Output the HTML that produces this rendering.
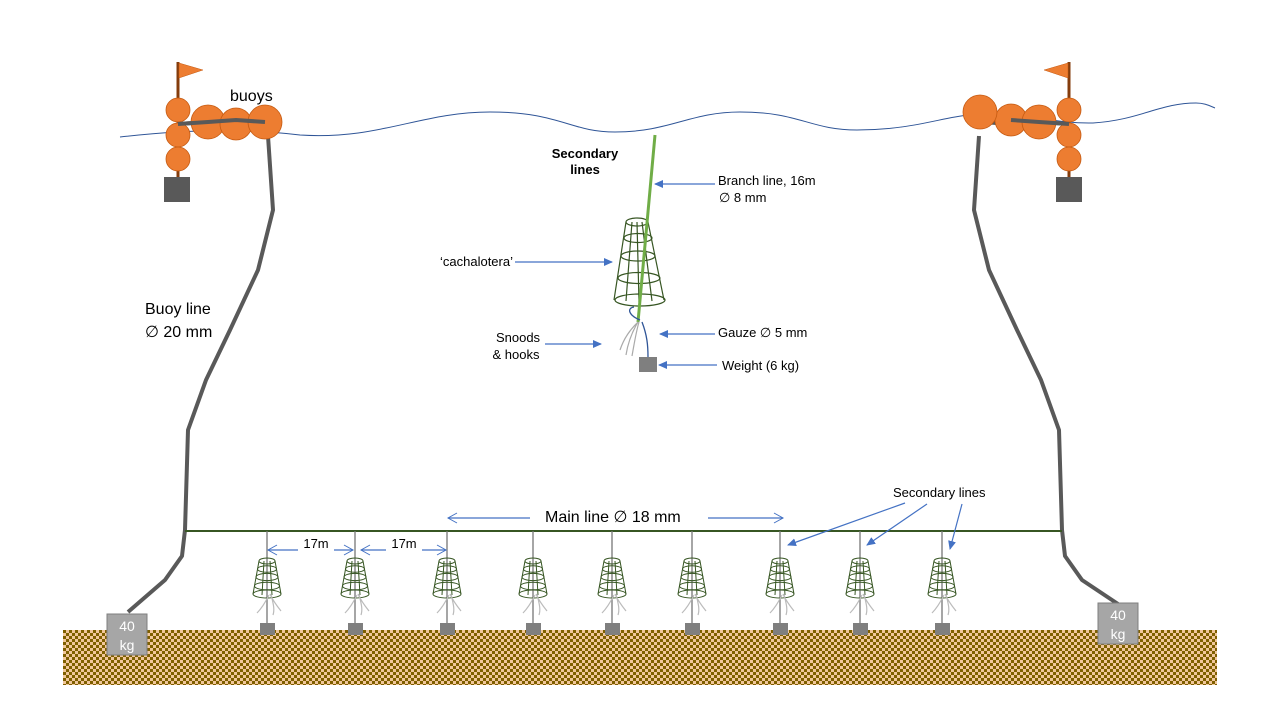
<!DOCTYPE html>
<html><head><meta charset="utf-8"><style>
html,body{margin:0;padding:0;background:#fff;}
svg{display:block;font-family:"Liberation Sans",sans-serif;}
</style></head><body>
<svg width="1280" height="720" viewBox="0 0 1280 720">
<defs>
<pattern id="chk" width="6" height="6" patternUnits="userSpaceOnUse">
<rect width="6" height="6" fill="#7f6000"/>
<rect width="3" height="3" fill="#f1c79b"/>
<rect x="3" y="3" width="3" height="3" fill="#f1c79b"/>
</pattern>
<marker id="ah" markerWidth="10" markerHeight="10" refX="8" refY="5" orient="auto" markerUnits="userSpaceOnUse">
<path d="M0,1 L9,5 L0,9 z" fill="#4472c4"/>
</marker>
<marker id="ao" markerWidth="12" markerHeight="12" refX="10" refY="6" orient="auto" markerUnits="userSpaceOnUse">
<path d="M1,1 L10,6 L1,11" fill="none" stroke="#4472c4" stroke-width="1"/>
</marker>
<g id="trap">
<line x1="0" y1="-30" x2="0" y2="62" stroke="#777" stroke-width="1.3"/>
<g fill="none" stroke="#375623" stroke-width="1">
<path d="M-8,0 L-14,33 M8,0 L14,33 M-3,0 L-5,34 M3,0 L5,34"/>
<ellipse cx="0" cy="0" rx="8" ry="3"/>
<ellipse cx="0" cy="8" rx="9.5" ry="3.3"/>
<ellipse cx="0" cy="16" rx="11" ry="3.6"/>
<ellipse cx="0" cy="25" rx="12.5" ry="3.8"/>
<ellipse cx="0" cy="33" rx="14" ry="4"/>
</g>
<path d="M3,33 C6,40 10,45 14,50 M4,33 C6,42 8,48 6,54 M2,34 C-2,42 -6,48 -10,52" fill="none" stroke="#bbb" stroke-width="1.2"/>
<rect x="-7" y="62" width="15" height="12" fill="#7f7f7f"/>
</g>
</defs>

<!-- seabed -->
<rect x="63" y="630" width="1154" height="55" fill="url(#chk)"/>

<!-- wave -->
<path d="M120,137 C200,128 260,130 300,135 C380,140 420,112 490,112 C560,112 570,132 615,132 C670,132 690,112 740,112 C800,112 810,130 857,130 C910,130 940,118 968,115 C1020,110 1050,124 1093,123 C1140,120 1160,103 1196,103 C1205,103 1210,106 1215,108" fill="none" stroke="#2f5597" stroke-width="1"/>

<!-- buoy lines -->
<path d="M178,124 L208,122 L236,124 L265,122 M268,136 L273,210 L258,270 L230,330 L206,380 L188,430 L185,530 L182,556 L165,580 L128,612" fill="none" stroke="#595959" stroke-width="4" stroke-linejoin="round"/>
<path d="M1069,124 L1039,122 L1011,124 L982,122 M979,136 L974,210 L989,270 L1017,330 L1041,380 L1059,430 L1062,530 L1065,556 L1082,580 L1118,604" fill="none" stroke="#595959" stroke-width="4" stroke-linejoin="round"/>

<!-- main line -->
<line x1="185" y1="531" x2="1062" y2="531" stroke="#375623" stroke-width="2"/>

<!-- left buoy -->
<line x1="178" y1="62" x2="178" y2="178" stroke="#843c0c" stroke-width="3"/>
<path d="M179,63 L203,70 L179,78 z" fill="#ed7d31" stroke="#c55a11" stroke-width="0.5"/>
<rect x="164" y="177" width="26" height="25" fill="#595959"/>
<g fill="#ed7d31" stroke="#c55a11" stroke-width="0.8">
<circle cx="178" cy="110" r="12"/><circle cx="178" cy="135" r="12"/><circle cx="178" cy="159" r="12"/>
<circle cx="208" cy="122" r="17"/><circle cx="236" cy="124" r="16"/><circle cx="265" cy="122" r="17"/>
</g>
<path d="M178,124 L208,122 L236,120 L265,122" fill="none" stroke="#595959" stroke-width="4"/>
<!-- right buoy -->
<line x1="1069" y1="62" x2="1069" y2="178" stroke="#843c0c" stroke-width="3"/>
<path d="M1068,63 L1044,70 L1068,78 z" fill="#ed7d31" stroke="#c55a11" stroke-width="0.5"/>
<rect x="1056" y="177" width="26" height="25" fill="#595959"/>
<g fill="#ed7d31" stroke="#c55a11" stroke-width="0.8">
<circle cx="1069" cy="110" r="12"/><circle cx="1069" cy="135" r="12"/><circle cx="1069" cy="159" r="12"/>
<circle cx="1011" cy="120" r="16"/><circle cx="980" cy="112" r="17"/><circle cx="1039" cy="122" r="17"/>
</g>
<path d="M1069,124 L1039,122 L1011,120" fill="none" stroke="#595959" stroke-width="4"/>

<!-- 40 kg weights -->
<rect x="107" y="614" width="40" height="41" fill="#a6a6a6" stroke="#7f7f7f"/>
<text x="127" y="631" fill="#fff" font-size="14" text-anchor="middle">40</text>
<text x="127" y="650" fill="#fff" font-size="14" text-anchor="middle">kg</text>
<rect x="1098" y="603" width="40" height="41" fill="#a6a6a6" stroke="#7f7f7f"/>
<text x="1118" y="620" fill="#fff" font-size="14" text-anchor="middle">40</text>
<text x="1118" y="639" fill="#fff" font-size="14" text-anchor="middle">kg</text>

<!-- small traps -->
<use href="#trap" x="267" y="561"/>
<use href="#trap" x="355" y="561"/>
<use href="#trap" x="447" y="561"/>
<use href="#trap" x="533" y="561"/>
<use href="#trap" x="612" y="561"/>
<use href="#trap" x="692" y="561"/>
<use href="#trap" x="780" y="561"/>
<use href="#trap" x="860" y="561"/>
<use href="#trap" x="942" y="561"/>

<!-- central detail -->
<g fill="none" stroke="#375623" stroke-width="1.2">
<path d="M626,222 L614,300 M648,222 L664,300 M632,222 L626,301 M642,222 L652,301 M637,222 L639,302"/>
<ellipse cx="637" cy="222" rx="11" ry="4"/>
<ellipse cx="638" cy="238" rx="14" ry="4.5"/>
<ellipse cx="638" cy="256" rx="17" ry="5"/>
<ellipse cx="639" cy="278" rx="21" ry="5.5"/>
<ellipse cx="640" cy="300" rx="25" ry="6"/>
</g>
<line x1="655" y1="135" x2="638" y2="322" stroke="#70ad47" stroke-width="3"/>
<path d="M640,320 C628,315 627,308 634,307 M642,322 C647,335 648,345 648,357" fill="none" stroke="#2f5597" stroke-width="1.3"/>
<path d="M638,322 C630,330 624,338 620,350 M638,322 C632,332 628,342 626,355 M639,322 C636,332 634,345 632,356" fill="none" stroke="#aaa" stroke-width="1.2"/>
<rect x="639" y="357" width="18" height="15" fill="#7f7f7f"/>

<!-- arrows -->
<g stroke="#4472c4" stroke-width="1.2" fill="none">
<line x1="715" y1="184" x2="655" y2="184" marker-end="url(#ah)"/>
<line x1="515" y1="262" x2="612" y2="262" marker-end="url(#ah)"/>
<line x1="715" y1="334" x2="660" y2="334" marker-end="url(#ah)"/>
<line x1="545" y1="344" x2="601" y2="344" marker-end="url(#ah)"/>
<line x1="717" y1="365" x2="659" y2="365" marker-end="url(#ah)"/>
<line x1="530" y1="518" x2="448" y2="518" marker-end="url(#ao)"/>
<line x1="708" y1="518" x2="783" y2="518" marker-end="url(#ao)"/>
<line x1="905" y1="503" x2="788" y2="545" marker-end="url(#ah)"/>
<line x1="927" y1="504" x2="867" y2="545" marker-end="url(#ah)"/>
<line x1="962" y1="504" x2="950" y2="549" marker-end="url(#ah)"/>
<line x1="300" y1="550" x2="268" y2="550" marker-end="url(#ao)"/>
<line x1="320" y1="550" x2="353" y2="550" marker-end="url(#ao)"/>
<line x1="390" y1="550" x2="361" y2="550" marker-end="url(#ao)"/>
<line x1="410" y1="550" x2="446" y2="550" marker-end="url(#ao)"/>
</g>
<rect x="298" y="537" width="36" height="16" fill="#fff"/>
<rect x="386" y="537" width="36" height="16" fill="#fff"/>

<!-- text -->
<g fill="#000" font-size="13">
<text x="585" y="158" text-anchor="middle" font-weight="bold">Secondary</text>
<text x="585" y="174" text-anchor="middle" font-weight="bold">lines</text>
<text x="718" y="185">Branch line, 16m</text>
<text x="719" y="202">∅ 8 mm</text>
<text x="513" y="266" text-anchor="end">‘cachalotera’</text>
<text x="718" y="337">Gauze ∅ 5 mm</text>
<text x="518" y="342" text-anchor="middle">Snoods</text>
<text x="516" y="359" text-anchor="middle">&amp; hooks</text>
<text x="722" y="370">Weight (6 kg)</text>
<text x="893" y="497">Secondary lines</text>
<text x="316" y="548" text-anchor="middle">17m</text>
<text x="404" y="548" text-anchor="middle">17m</text>
</g>
<g fill="#000" font-size="16">
<text x="230" y="101">buoys</text>
<text x="145" y="314">Buoy line</text>
<text x="145" y="337">∅ 20 mm</text>
<text x="545" y="522">Main line ∅ 18 mm</text>
</g>
</svg>
</body></html>
